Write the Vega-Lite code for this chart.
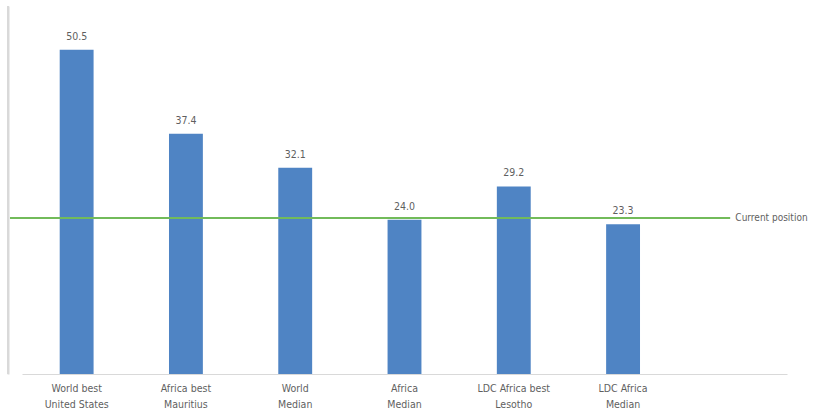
{
  "$schema": "https://vega.github.io/schema/vega-lite/v6.json",
  "width": 810,
  "height": 368,
  "autosize": {"type": "none"},
  "padding": {"left": 8, "top": 6, "right": 0, "bottom": 38},
  "background": "white",
  "config": {
    "view": {"stroke": null},
    "font": "Liberation Sans Narrow, DejaVu Sans Condensed, sans-serif"
  },
  "datasets": {
    "bars": [
      {"cat": "World best|United States", "value": 50.5},
      {"cat": "Africa best|Mauritius", "value": 37.4},
      {"cat": "World|Median", "value": 32.1},
      {"cat": "Africa|Median", "value": 24.0},
      {"cat": "LDC Africa best|Lesotho", "value": 29.2},
      {"cat": "LDC Africa|Median", "value": 23.3}
    ],
    "ref": [{"label": "Current position", "value": 24.3}]
  },
  "encoding": {
    "x": {
      "field": "cat",
      "type": "nominal",
      "sort": null,
      "scale": {
        "domain": ["World best|United States", "Africa best|Mauritius", "World|Median", "Africa|Median", "LDC Africa best|Lesotho", "LDC Africa|Median", "_"],
        "range": [14, 779],
        "paddingInner": 0,
        "paddingOuter": 0
      },
      "axis": {
        "title": null,
        "ticks": false,
        "labelAngle": 0,
        "labelPadding": 9,
        "labelFontSize": 10.5,
        "labelColor": "#5f5f5f",
        "labelLineHeight": 16,
        "labelBaseline": "top",
        "domainColor": "#d9d9d9",
        "domainWidth": 1,
        "labelExpr": "datum.label == '_' ? '' : split(datum.label, '|')"
      }
    }
  },
  "layer": [
    {
      "data": {"name": "bars"},
      "mark": {"type": "bar", "color": "#4f84c4", "width": {"band": 0.31}},
      "encoding": {
        "y": {
          "field": "value",
          "type": "quantitative",
          "scale": {"domain": [0, 57.3], "nice": false},
          "axis": {"labels": false, "ticks": false, "grid": false, "title": null, "domainColor": "#d9d9d9", "domainWidth": 2}
        }
      }
    },
    {
      "data": {"name": "bars"},
      "mark": {"type": "text", "baseline": "bottom", "dy": -8, "fontSize": 10.5, "color": "#5f5f5f"},
      "encoding": {
        "y": {"field": "value", "type": "quantitative"},
        "text": {"field": "value", "type": "quantitative", "format": ".1f"}
      }
    },
    {
      "data": {"name": "ref"},
      "mark": {"type": "rule", "color": "#72bb5a", "strokeWidth": 2},
      "encoding": {
        "x": {"datum": "World best|United States", "bandPosition": -0.11},
        "x2": {"datum": "_", "bandPosition": 0.48},
        "y": {"field": "value", "type": "quantitative"}
      }
    },
    {
      "data": {"name": "ref"},
      "mark": {"type": "text", "align": "left", "baseline": "middle", "dx": 3, "fontSize": 10, "color": "#5f5f5f"},
      "encoding": {
        "x": {"datum": "_", "bandPosition": 0.5},
        "y": {"field": "value", "type": "quantitative"},
        "text": {"field": "label"}
      }
    },
    {
      "data": {"values": [{}]},
      "mark": {"type": "rule", "color": "#d9d9d9", "strokeWidth": 2},
      "encoding": {
        "y": {"datum": 57.3, "type": "quantitative"}
      }
    }
  ]
}
